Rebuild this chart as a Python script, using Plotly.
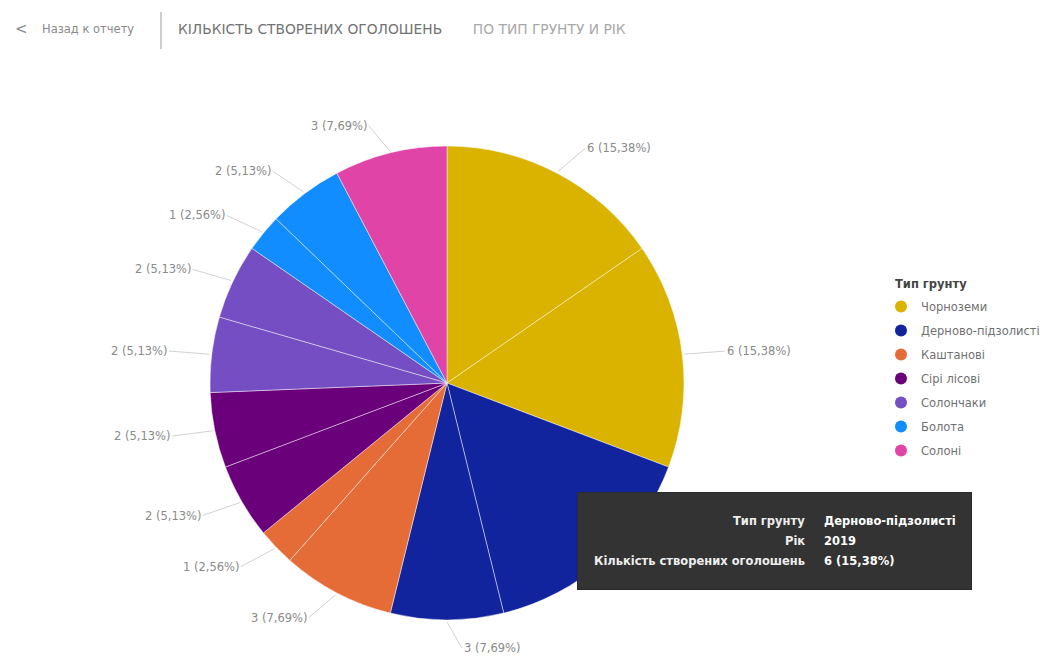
import math
import plotly.graph_objects as go

# ---- data -------------------------------------------------------------
soil_types = ["Чорноземи", "Дерново-підзолисті", "Каштанові", "Сірі лісові",
              "Солончаки", "Болота", "Солоні"]
soil_colors = ["#D9B300", "#12239E", "#E66C37", "#6B007B",
               "#744EC2", "#118DFF", "#E044A7"]

# one slice per (soil type, year), clockwise from 12 o'clock
slice_soil = ["Чорноземи", "Чорноземи", "Дерново-підзолисті", "Дерново-підзолисті",
              "Каштанові", "Каштанові", "Сірі лісові", "Сірі лісові",
              "Солончаки", "Солончаки", "Болота", "Болота", "Солоні"]
slice_year = ["2019", "2020", "2019", "2020", "2019", "2020", "2019", "2020",
              "2019", "2020", "2019", "2020", "2019"]
slice_count = [6, 6, 6, 3, 3, 1, 2, 2, 2, 2, 1, 2, 3]

legend_title = "Тип грунту"
measure_name = "Кількість створених оголошень"
year_name = "Рік"
back_text = "Назад к отчету"
title_main = "КІЛЬКІСТЬ СТВОРЕНИХ ОГОЛОШЕНЬ"
title_sub = "ПО ТИП ГРУНТУ И РІК"
tooltip_slice = 2  # slice highlighted by the hover card

# ---- layout geometry (pixels) ----------------------------------------
W, H = 1049, 659
CX, CY, R = 447, 383, 237
FONT = "DejaVu Sans"


def px(x):
    return x / W


def py(y):
    return 1 - y / H


def fmt_pct(v, total):
    return f"{v / total * 100:.2f}".replace(".", ",") + "%"


total = sum(slice_count)
color_of = dict(zip(soil_types, soil_colors))

fig = go.Figure()

fig.add_trace(go.Pie(
    labels=[f"{s} {y}" for s, y in zip(slice_soil, slice_year)],
    values=slice_count,
    sort=False,
    direction="clockwise",
    rotation=0,
    textinfo="none",
    hoverinfo="skip",
    showlegend=False,
    marker=dict(colors=[color_of[s] for s in slice_soil],
                line=dict(color="rgba(255,255,255,0.45)", width=1)),
    domain=dict(x=[px(CX - R), px(CX + R)], y=[py(CY + R), py(CY - R)]),
))

# legend entries (one per soil type)
for name, col in zip(soil_types, soil_colors):
    fig.add_trace(go.Scatter(
        x=[None], y=[None], mode="markers", name=name,
        legendgroup=name,
        marker=dict(color=col, size=10, symbol="circle"),
        hoverinfo="skip",
    ))

annotations = []
shapes = []

# data labels with leader lines
cum = 0
for v in slice_count:
    mid = (cum + v / 2) / total * 360
    cum += v
    t = math.radians(mid)
    sx, sy = math.sin(t), -math.cos(t)
    hx, hy = CX + (R + 2) * sx, CY + (R + 2) * sy
    L, h = 26, 15
    right_side = sx >= 0
    ax = L * sx + (h if right_side else -h)
    ay = L * sy
    annotations.append(dict(
        x=px(hx), y=py(hy), xref="paper", yref="paper",
        ax=ax, ay=ay, showarrow=True, arrowhead=0, arrowwidth=1,
        arrowcolor="#d2d2d2", standoff=0, startstandoff=0,
        text=f"{v} ({fmt_pct(v, total)})",
        xanchor="left" if right_side else "right", yanchor="middle",
        font=dict(family=FONT, size=11.5, color="#8a8a8a"),
    ))

# header: back button, divider, title
annotations.append(dict(x=px(13), y=py(29), xref="paper", yref="paper", showarrow=False,
                        text="&lt;", xanchor="left", yanchor="middle",
                        font=dict(family=FONT, size=15, color="#8a8a8a")))
annotations.append(dict(x=px(40), y=py(29), xref="paper", yref="paper", showarrow=False,
                        text=back_text, xanchor="left", yanchor="middle",
                        font=dict(family=FONT, size=11.5, color="#8a8a8a")))
shapes.append(dict(type="line", xref="paper", yref="paper",
                   x0=px(161), x1=px(161), y0=py(12), y1=py(49),
                   line=dict(color="#9a9a9a", width=1)))
annotations.append(dict(x=px(176), y=py(29), xref="paper", yref="paper", showarrow=False,
                        text=(f"<span style='color:#727272'>{title_main}</span>"
                              f"&nbsp;&nbsp;&nbsp;&nbsp;&nbsp;&nbsp;&nbsp;"
                              f"<span style='color:#a8a8a8'>{title_sub}</span>"),
                        xanchor="left", yanchor="middle",
                        font=dict(family=FONT, size=13.8)))

# legend heading
annotations.append(dict(x=px(893), y=py(284), xref="paper", yref="paper", showarrow=False,
                        text=f"<b>{legend_title}</b>", xanchor="left", yanchor="middle",
                        font=dict(family=FONT, size=11.5, color="#444444")))

# hover card for the highlighted slice (drawn after the labels so it covers them)
tx0, tx1, ty0, ty1 = 578, 971, 493, 589
annotations.append(dict(x=px((tx0 + tx1) / 2), y=py((ty0 + ty1) / 2),
                        xref="paper", yref="paper", showarrow=False,
                        text=" ", width=tx1 - tx0, height=ty1 - ty0,
                        xanchor="center", yanchor="middle",
                        bgcolor="#333333", bordercolor="#2a2a2a", borderwidth=1,
                        borderpad=0))
tv = slice_count[tooltip_slice]
rows = [(legend_title, slice_soil[tooltip_slice]),
        (year_name, slice_year[tooltip_slice]),
        (measure_name, f"{tv} ({fmt_pct(tv, total)})")]
for k, (lab, val) in enumerate(rows):
    yy = 521 + 20 * k
    annotations.append(dict(x=px(807), y=py(yy), xref="paper", yref="paper", showarrow=False,
                            text=f"<b>{lab}</b>", xanchor="right", yanchor="middle",
                            font=dict(family=FONT, size=11.5, color="#eeeeee")))
    annotations.append(dict(x=px(822), y=py(yy), xref="paper", yref="paper", showarrow=False,
                            text=f"<b>{val}</b>", xanchor="left", yanchor="middle",
                            font=dict(family=FONT, size=11.5, color="#ffffff")))

fig.update_layout(
    width=W, height=H,
    margin=dict(l=0, r=0, t=0, b=0, autoexpand=False),
    paper_bgcolor="white", plot_bgcolor="white",
    xaxis=dict(visible=False), yaxis=dict(visible=False),
    legend=dict(
        x=px(881), y=py(292), xanchor="left", yanchor="top",
        font=dict(family=FONT, size=11.5, color="#707070"),
        tracegroupgap=5, itemwidth=30, itemsizing="constant",
        bgcolor="rgba(0,0,0,0)",
    ),
    annotations=annotations,
    shapes=shapes,
)

fig.write_html("out.html")
